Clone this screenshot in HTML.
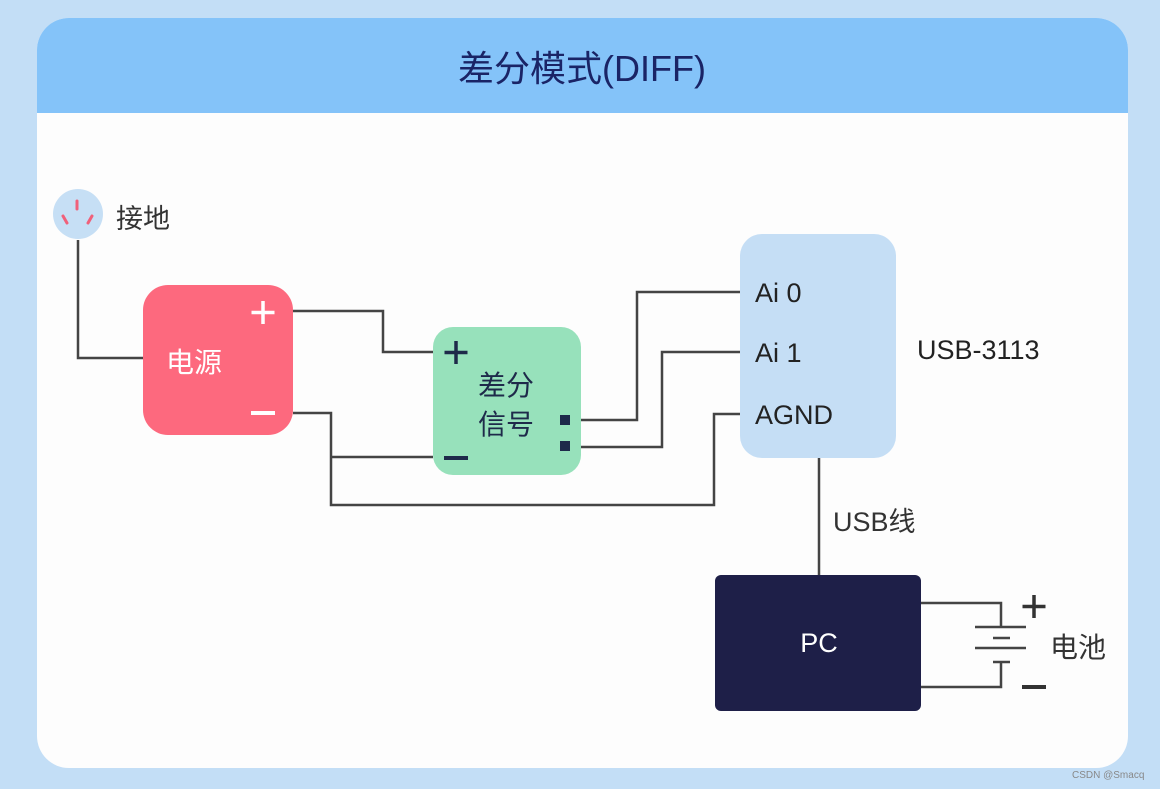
<!DOCTYPE html>
<html><head><meta charset="utf-8"><style>
html,body{margin:0;padding:0;background:#c3def6;}
svg{display:block}
text{font-family:"Liberation Sans","Noto Sans CJK SC",sans-serif;}
</style></head><body>
<svg width="1160" height="789" viewBox="0 0 1160 789" xmlns="http://www.w3.org/2000/svg">
<rect x="0" y="0" width="1160" height="789" fill="#c3def6"/>
<rect x="37" y="18" width="1091" height="750" rx="32" fill="#fdfdfd"/>
<path d="M37 113 V50 A32 32 0 0 1 69 18 H1096 A32 32 0 0 1 1128 50 V113 Z" fill="#84c3f9"/>
<text x="582" y="81" text-anchor="middle" font-size="36" fill="#1a2466">差分模式(DIFF)</text>

<g fill="none" stroke="#444" stroke-width="2.5">
<path d="M78 240 V358 H143"/>
<path d="M293 311 H383 V352 H433"/>
<path d="M293 413 H331 V505 H714 V414 H740"/>
<path d="M331 457 H433"/>
<path d="M581 420 H637 V292 H740"/>
<path d="M581 447 H662 V352 H740"/>
<path d="M819 458 V576"/>
<path d="M921 603 H1001 V627"/>
<path d="M975 627 H1026 M993 638 H1010 M975 648 H1026 M993 662 H1010"/>
<path d="M1001 662 V687 H921"/>
</g>

<circle cx="78" cy="214" r="25" fill="#c6dff5"/>
<g stroke="#f0607a" stroke-width="3" stroke-linecap="round">
<line x1="77" y1="201" x2="77" y2="209"/>
<line x1="63" y1="216" x2="67" y2="223"/>
<line x1="92" y1="216" x2="88" y2="223"/>
</g>
<text x="116" y="228" font-size="27" fill="#333">接地</text>

<rect x="143" y="285" width="150" height="150" rx="25" fill="#fd697e"/>
<text x="166" y="372" font-size="28" fill="#fff">电源</text>
<path d="M263 301 V324 M251.5 312.5 H274.5" stroke="#fff" stroke-width="3.5"/>
<rect x="251" y="411" width="24" height="4" fill="#fff"/>

<rect x="433" y="327" width="148" height="148" rx="20" fill="#97e1bb"/>
<path d="M456 341 V364 M444.5 352.5 H467.5" stroke="#1e2a4a" stroke-width="3.5"/>
<rect x="444" y="456" width="24" height="4" fill="#1e2a4a"/>
<text x="478" y="395" font-size="28" fill="#1e2a4a">差分</text>
<text x="478" y="434" font-size="28" fill="#1e2a4a">信号</text>
<rect x="560" y="415" width="10" height="10" fill="#1e2a4a"/>
<rect x="560" y="441" width="10" height="10" fill="#1e2a4a"/>

<rect x="740" y="234" width="156" height="224" rx="22" fill="#c5def5"/>
<text x="755" y="302" font-size="27" fill="#222">Ai 0</text>
<text x="755" y="362" font-size="27" fill="#222">Ai 1</text>
<text x="755" y="424" font-size="27" fill="#222">AGND</text>
<text x="917" y="359" font-size="27" fill="#222">USB-3113</text>
<text x="833" y="531" font-size="27" fill="#333">USB线</text>

<rect x="715" y="575" width="206" height="136" rx="6" fill="#1e1f48"/>
<text x="819" y="652" font-size="27" fill="#fff" text-anchor="middle">PC</text>

<path d="M1034 595 V618 M1022.5 606.5 H1045.5" stroke="#333" stroke-width="3.5"/>
<rect x="1022" y="685" width="24" height="4" fill="#333"/>
<text x="1050" y="657" font-size="28" fill="#333">电池</text>

<text x="1072" y="778" font-size="10" fill="#888">CSDN @Smacq</text>
</svg>
</body></html>
